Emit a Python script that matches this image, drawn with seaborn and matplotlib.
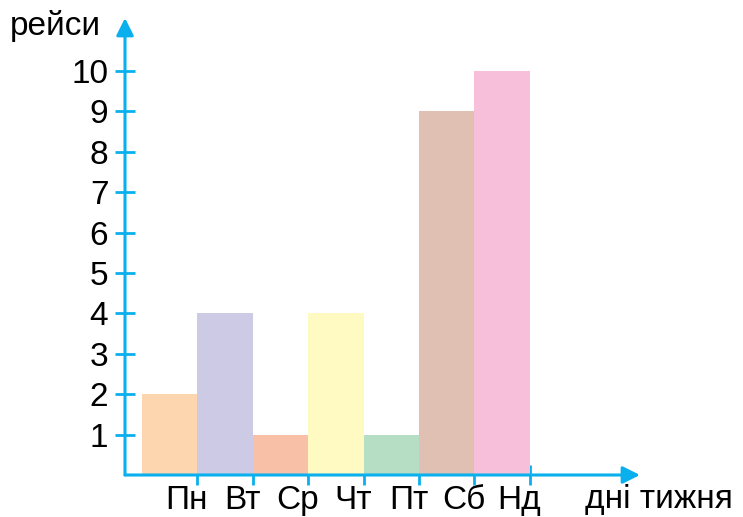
import numpy as np
import pandas as pd
import seaborn as sns
import matplotlib.pyplot as plt

# Data
days = ['Пн', 'Вт', 'Ср', 'Чт', 'Пт', 'Сб', 'Нд']
flights = [2, 4, 1, 4, 1, 9, 10]
colors = ['#FDD6B0', '#CCCAE4', '#F9C0A8', '#FFF9C2', '#B6DEC4', '#E0C0B2', '#F7BFDA']
y_ticks = list(range(1, 11))

blue = '#0AB0EE'
fs = 24

sns.set_style('white')
plt.rcParams['font.family'] = ['Liberation Sans', 'DejaVu Sans']
plt.rcParams['text.color'] = 'black'
plt.rcParams['xtick.labelcolor'] = 'black'
plt.rcParams['ytick.labelcolor'] = 'black'

df = pd.DataFrame({'day': days, 'flights': flights})

fig = plt.figure(figsize=(7.43, 5.17), dpi=100)
ax = fig.add_axes([125 / 743, 1 - 475 / 517, (640 - 125) / 743, (475 - 18) / 517])

sns.barplot(data=df, x='day', y='flights', hue='day', palette=colors,
            saturation=1, width=1, linewidth=0, legend=False, ax=ax)

ax.set_xlim(-0.807, 8.49)
ax.set_ylim(0, 11.31)
for s in ax.spines.values():
    s.set_visible(False)

# axes with arrows
arrow = dict(arrowstyle='-|>', color=blue, lw=2.2, mutation_scale=26,
             shrinkA=0, shrinkB=0)
ax.annotate('', xy=(1, 0), xytext=(0, 0), xycoords='axes fraction',
            arrowprops=arrow, annotation_clip=False)
ax.annotate('', xy=(0, 1), xytext=(0, 0), xycoords='axes fraction',
            arrowprops=arrow, annotation_clip=False)

# y ticks
ax.set_yticks(y_ticks)
ax.set_yticklabels([str(v) for v in y_ticks])
ax.tick_params(axis='y', which='major', direction='inout', length=14, width=2,
               color=blue, labelsize=fs, labelcolor='black', pad=5, left=True)

# x ticks: marks at bar edges, labels slightly left of them
ax.set_xticks([i + 0.5 for i in range(len(days))], minor=True)
ax.set_xticks([i + 0.5 - 0.19 for i in range(len(days))])
ax.set_xticklabels(days)
ax.tick_params(axis='x', which='minor', direction='inout', length=14, width=2,
               color=blue, bottom=True)
ax.tick_params(axis='x', which='major', length=0, labelsize=fs,
               labelcolor='black', pad=7)
ax.set_xlabel('')
ax.set_ylabel('')
for t in ax.xaxis.get_minor_ticks():
    t.tick1line.set_zorder(5)

fig.text(10 / 743, 1 - 35 / 517, 'рейси', fontsize=fs, ha='left', va='baseline')
fig.text(585 / 743, 1 - 508 / 517, 'дні тижня', fontsize=fs, ha='left', va='baseline')

plt.savefig('out.png', dpi=100)
